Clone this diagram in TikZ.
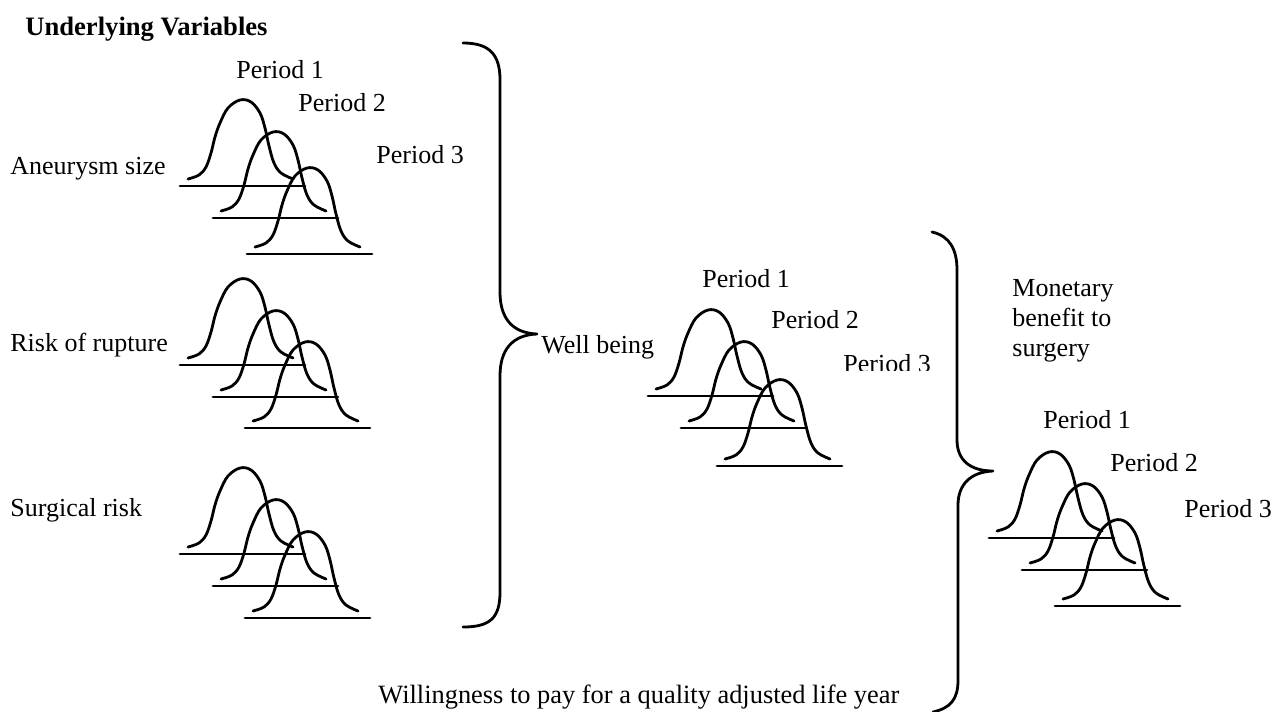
\documentclass[tikz,border=0pt]{standalone}
\usepackage{fontspec}
\setmainfont{Liberation Serif}
\tikzset{
  txt/.style={font=\fontsize{13}{15}\selectfont, inner sep=0pt, anchor=base west},
  ink/.style={line width=1.4pt, line join=round, line cap=round},
}
\newcommand\bellone[2]{%
  \begin{scope}[shift={(#1,#2)}]
  \draw[ink] (0,0) -- (125,0);
  \draw[ink] plot[smooth,tension=0.6] coordinates {(8,-7) (19,-11) (26,-19) (31,-33) (35,-49) (40,-63) (48,-78) (60,-86) (71,-84) (80,-73) (85,-58) (89,-40) (94,-23) (101,-13) (113,-7)};
  \end{scope}
}
\newcommand\bellgroup[4]{%
  \bellone{#1}{#2}%
  \bellone{#1+33}{#2+32}%
  \bellone{#1+#3}{#2+#4}%
}
\begin{document}
\begin{tikzpicture}[x=0.5pt,y=-0.5pt]
\useasboundingbox (0,0) rectangle (1277,711);

% titles and labels
\node[txt,font=\fontsize{13.3}{15}\selectfont\bfseries] (title) at (25,36) {Underlying Variables};
\node[txt] (aneu) at (10,175) {Aneurysm size};
\node[txt] (risk) at (10,351) {Risk of rupture};
\node[txt] (surg) at (10,516) {Surgical risk};

% group 1
\node[txt] (g1p1) at (236,79) {Period 1};
\node[txt] (g1p2) at (298,112) {Period 2};
\node[txt] (g1p3) at (376,164) {Period 3};
\bellgroup{180}{186}{67}{68}
% group 2
\bellgroup{180}{365}{65}{63}
% group 3
\bellgroup{180}{554}{65}{64}

% brace 1
\draw[ink] (463,43) .. controls (490,43) and (500,55) .. (500,80)
  -- (500,292) .. controls (500,318) and (512,333) .. (537,334)
  .. controls (512,335) and (500,350) .. (500,376)
  -- (500,592) .. controls (500,618) and (490,627) .. (463,627);
\coordinate (tip1) at (537,334);

\node[txt] (well) at (541,353) {Well being};

% group 4
\node[txt] (g4p1) at (702,287) {Period 1};
\node[txt] (g4p2) at (771,328) {Period 2};
\begin{scope}
  \clip (830,340) rectangle (980,370);
  \node[txt] (g4p3) at (843,372) {Period 3};
\end{scope}
\bellgroup{648}{396}{69}{70}

% brace 2
\draw[ink] (932,232) .. controls (950,236) and (957,250) .. (957,270)
  -- (957,440) .. controls (957,460) and (970,471) .. (993,471)
  .. controls (970,472) and (958,485) .. (958,505)
  -- (958,680) .. controls (958,700) and (950,708) .. (933,712);
\coordinate (tip2) at (993,471);

\node[txt,anchor=north west,align=left,font=\fontsize{13}{14.9}\selectfont] (money) at (1012,279) {Monetary\\benefit to\\surgery};

% group 5
\node[txt] (g5p1) at (1043,428) {Period 1};
\node[txt] (g5p2) at (1110,471) {Period 2};
\node[txt] (g5p3) at (1184,517) {Period 3};
\bellgroup{989}{538}{66}{68}

\node[txt,font=\fontsize{13.2}{15}\selectfont] (wtp) at (378,703) {Willingness to pay for a quality adjusted life year};
\end{tikzpicture}
\end{document}
